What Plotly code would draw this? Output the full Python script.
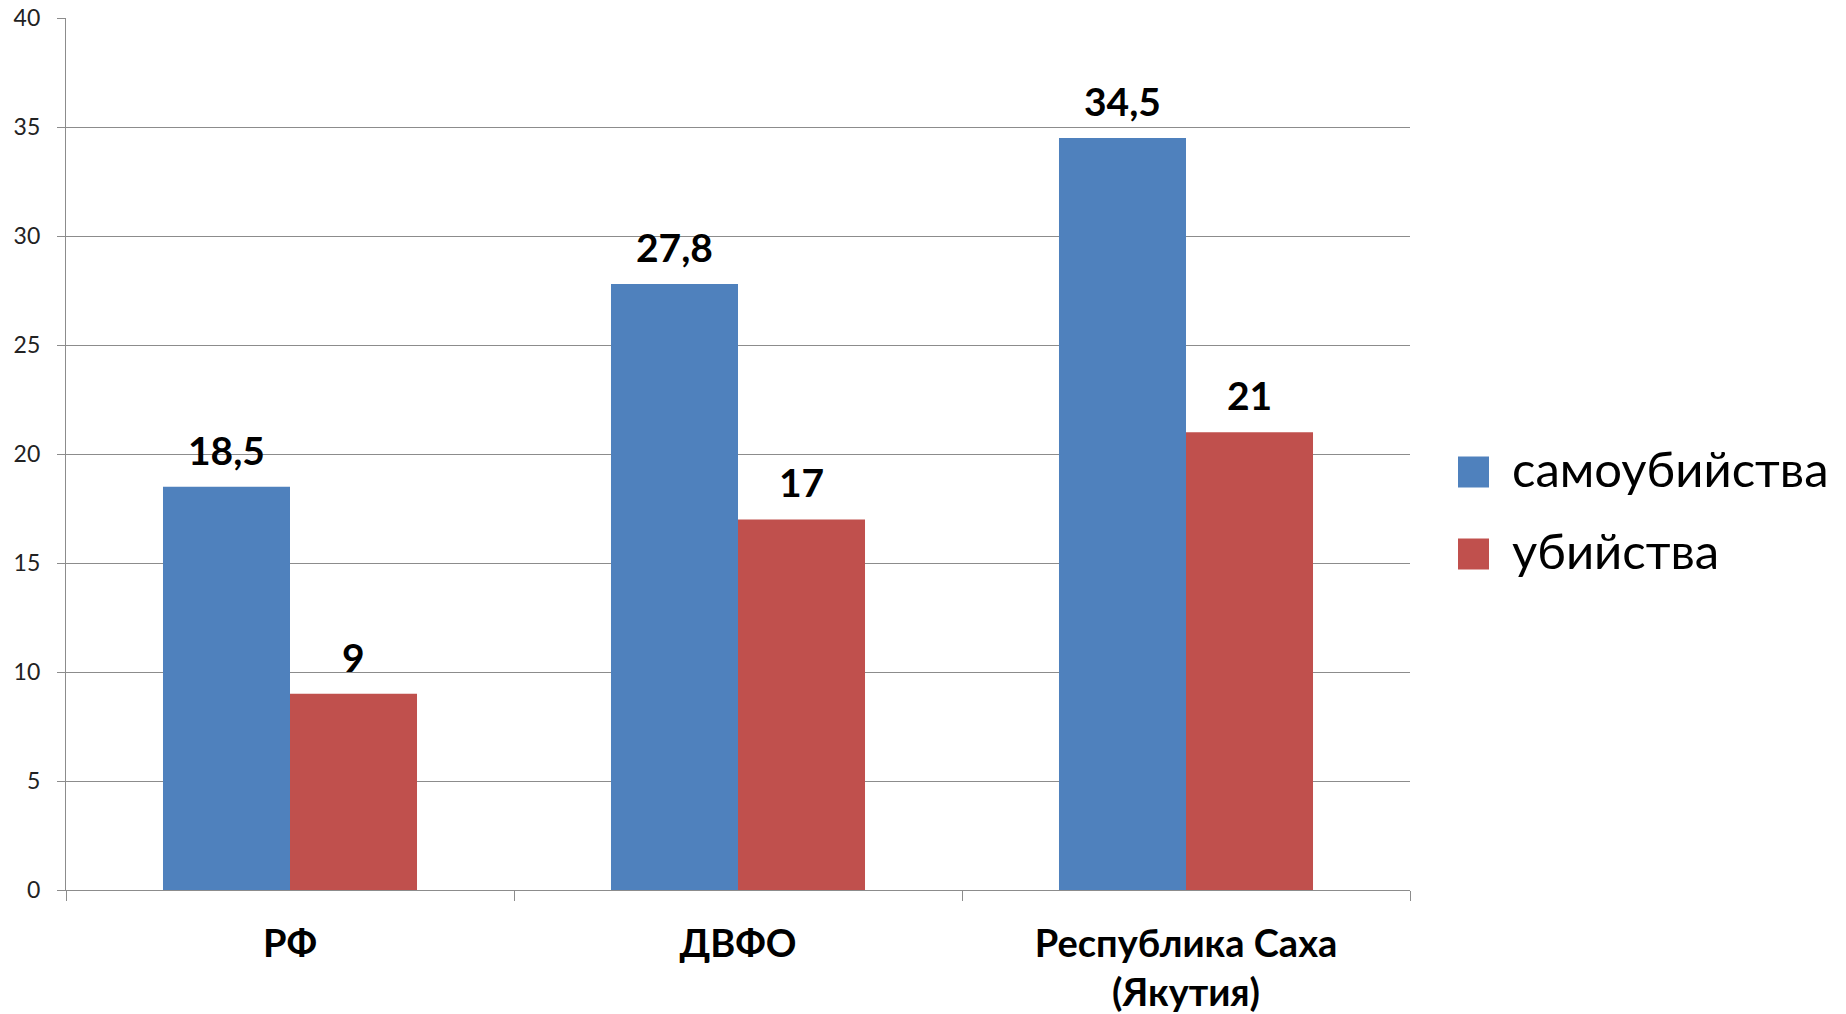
import plotly.graph_objects as go

categories = ["РФ", "ДВФО", "Республика Саха<br>(Якутия)"]
series_names = ["самоубийства", "убийства"]
suicides = [18.5, 27.8, 34.5]
murders = [9, 17, 21]
suicide_labels = ["18,5", "27,8", "34,5"]
murder_labels = ["9", "17", "21"]
y_ticks = [0, 5, 10, 15, 20, 25, 30, 35, 40]

FONT = "Lato"
BLUE = "#4F81BD"
RED = "#C0504D"
GRID = "#8c8c8c"
colors = [BLUE, RED]

# page body has an 8px margin, so the figure is offset by 8px
OFF = 8
W, H = 1846 - OFF, 1014 - OFF
ML, MT = 66 - OFF, 18 - OFF
PW, PH = 1344, 872
MR, MB = W - ML - PW, H - MT - PH

def px_x(x):
    return (x - OFF - ML) / PW

def px_y(y):
    return (MT + PH - (y - OFF)) / PH

fig = go.Figure()
for name, vals, col in zip(series_names, [suicides, murders], colors):
    fig.add_trace(go.Bar(
        x=categories, y=vals, name=name, marker_color=col,
        marker_line_width=0, showlegend=False,
    ))

# value labels above each bar
bar_w = PW / 3 * (1 - 0.433) / 2
for vals, labels, sign in [(suicides, suicide_labels, -1), (murders, murder_labels, 1)]:
    for c, v, t in zip(categories, vals, labels):
        fig.add_annotation(
            x=c, y=v, text="<b>" + t + "</b>", showarrow=False,
            xshift=sign * bar_w / 2, yshift=12, yanchor="bottom",
            font=dict(family=FONT, size=39, color="black"),
        )

# manual legend with large swatches
leg_y = [472, 554]
for name, col, yc in zip(series_names, colors, leg_y):
    fig.add_shape(
        type="rect", xref="paper", yref="paper",
        x0=px_x(1458), x1=px_x(1489), y0=px_y(yc + 15.5), y1=px_y(yc - 15.5),
        fillcolor=col, line=dict(width=0),
    )
    fig.add_annotation(
        xref="paper", yref="paper", x=px_x(1510), y=px_y(yc - 4),
        xanchor="left", yanchor="middle", text=name, showarrow=False,
        font=dict(family=FONT, size=49, color="black"),
    )

fig.update_layout(
    width=W, height=H,
    margin=dict(l=ML, r=MR, t=MT, b=MB, autoexpand=False),
    paper_bgcolor="white", plot_bgcolor="white",
    barmode="group", bargap=0.433, bargroupgap=0,
    font=dict(family=FONT, color="black"),
    showlegend=False,
    xaxis=dict(
        showgrid=False, showline=True, linecolor=GRID, linewidth=1.3,
        ticks="outside", tickson="boundaries", ticklen=10, tickcolor=GRID, tickwidth=1.3,
        tickfont=dict(family=FONT, size=38, color="black"),
        ticklabelstandoff=20, automargin=False, ticklabeloverflow="allow",
        tickvals=categories,
        ticktext=["<b>" + c.replace("<br>", "</b><br><b>") + "</b>" for c in categories],
    ),
    yaxis=dict(
        range=[0, 40], tickvals=y_ticks, showgrid=True, gridcolor=GRID, gridwidth=1.3,
        showline=True, linecolor=GRID, linewidth=1.3,
        ticks="outside", ticklen=8, tickcolor=GRID, tickwidth=1.3,
        tickfont=dict(family=FONT, size=23, color="#222222"),
        ticklabelstandoff=12, zeroline=False, automargin=False,
        ticklabeloverflow="allow",
    ),
)

fig.write_html("out.html")
